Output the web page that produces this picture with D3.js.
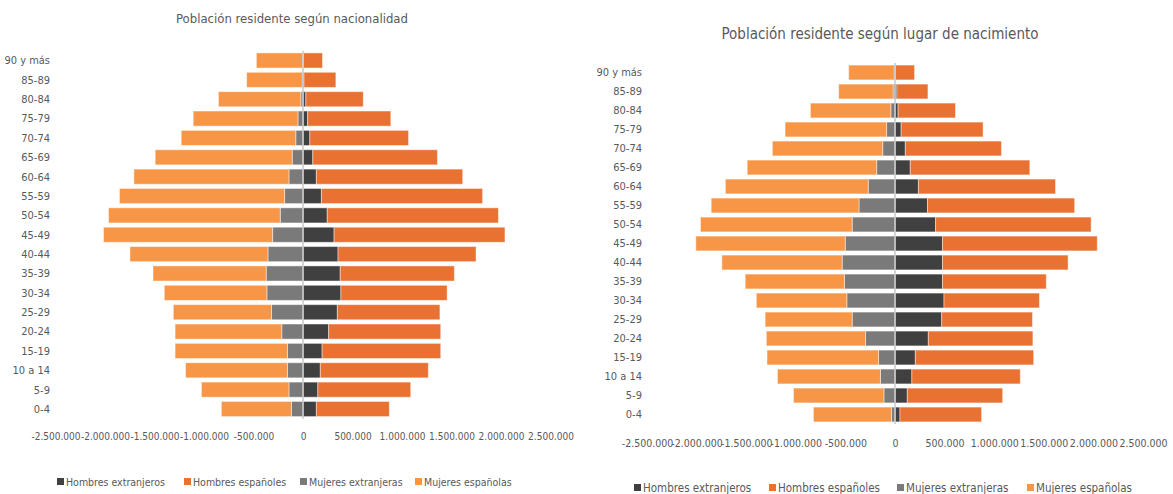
<!DOCTYPE html>
<html>
<head>
<meta charset="utf-8">
<script src="https://cdn.jsdelivr.net/npm/d3@7"></script>
<style>
  body { margin: 0; background: #fff; }
  svg text { font-family: "Liberation Sans Narrow", "DejaVu Sans Condensed", "Roboto", sans-serif; fill: #595959; }
</style>
</head>
<body>
<div id="chart"></div>
<script>
// Age groups, bottom to top
const AGES = ['0-4', '5-9', '10 a 14', '15-19', '20-24', '25-29', '30-34', '35-39', '40-44',
  '45-49', '50-54', '55-59', '60-64', '65-69', '70-74', '75-79', '80-84', '85-89', '90 y más'];

const SERIES = ['Hombres extranjeros', 'Hombres españoles', 'Mujeres extranjeras', 'Mujeres españolas'];
const COLORS = ['#404040', '#E97132', '#7A7A7A', '#F79646'];

const TICKS = [-2500000, -2000000, -1500000, -1000000, -500000, 0, 500000, 1000000, 1500000, 2000000, 2500000];

// Población residente según nacionalidad (miles)
const nacHombresExtranjeros = [135, 150, 175, 193, 259, 347, 383, 376, 354, 314, 245, 186, 135, 99, 69, 47, 29, 10, 4];
const nacHombresEspanoles = [737, 938, 1091, 1198, 1132, 1036, 1073, 1153, 1394, 1726, 1729, 1628, 1478, 1259, 997, 840, 580, 322, 193];
const nacMujeresExtranjeras = [117, 142, 157, 157, 215, 318, 365, 372, 354, 307, 230, 186, 142, 109, 73, 51, 22, 8, 4];
const nacMujeresEspanolas = [708, 884, 1029, 1135, 1077, 992, 1036, 1143, 1394, 1708, 1734, 1668, 1566, 1384, 1157, 1058, 832, 561, 467];

// Población residente según lugar de nacimiento (miles)
const nacimHombresExtranjeros = [50, 124, 170, 205, 336, 471, 494, 479, 479, 479, 409, 328, 236, 154, 104, 62, 31, 19, 5];
const nacimHombresEspanoles = [823, 961, 1093, 1193, 1054, 915, 962, 1046, 1266, 1560, 1568, 1483, 1382, 1205, 969, 826, 579, 313, 192];
const nacimMujeresExtranjeras = [35, 112, 147, 166, 297, 432, 486, 510, 533, 502, 432, 363, 270, 185, 124, 85, 42, 19, 8];
const nacimMujeresEspanolas = [787, 911, 1038, 1124, 1000, 877, 912, 1000, 1212, 1506, 1529, 1490, 1440, 1305, 1112, 1023, 811, 549, 459];

const WIDTH = 1173;
const HEIGHT = 494;

const fmt = d3.formatLocale({ decimal: ',', thousands: '.', grouping: [3], currency: ['', '€'], minus: '-' }).format(',');

const svg = d3.select('#chart')
  .append('svg')
  .attr('width', WIDTH)
  .attr('height', HEIGHT);

drawPyramid({
  title: 'Población residente según nacionalidad',
  titleX: 292, titleY: 23, titleSize: 13,
  zeroX: 303, pxPer500k: 49.5,
  top: 50.8, bottom: 418.7,
  tickY: 441, tickSize: 10, labelEndX: 50,
  legendY: 482, legendX: [57, 184, 300, 415], legendSize: 10.5,
  data: [nacHombresExtranjeros, nacHombresEspanoles, nacMujeresExtranjeras, nacMujeresEspanolas]
});

drawPyramid({
  title: 'Población residente según lugar de nacimiento',
  titleX: 880, titleY: 39, titleSize: 15,
  zeroX: 895, pxPer500k: 49.6,
  top: 63, bottom: 424,
  tickY: 448, tickSize: 10.5, labelEndX: 642,
  legendY: 488, legendX: [634, 769, 897, 1027], legendSize: 11.5,
  data: [nacimHombresExtranjeros, nacimHombresEspanoles, nacimMujeresExtranjeras, nacimMujeresEspanolas]
});

function drawPyramid (cfg) {
  const g = svg.append('g');
  const half = cfg.pxPer500k * 5;

  const xScale = d3.scaleLinear()
    .domain([-2500000, 2500000])
    .range([cfg.zeroX - half, cfg.zeroX + half]);

  const yScale = d3.scaleBand()
    .domain(AGES.slice().reverse())
    .range([cfg.top, cfg.bottom])
    .paddingInner(0.22)
    .paddingOuter(0.11);

  // stacked rows: men to the right, women to the left
  const rows = AGES.map((age, i) => {
    const he = cfg.data[0][i] * 1000;
    const hs = cfg.data[1][i] * 1000;
    const me = cfg.data[2][i] * 1000;
    const ms = cfg.data[3][i] * 1000;
    return [
      { age, s: 0, x0: 0, x1: he },
      { age, s: 1, x0: he, x1: he + hs },
      { age, s: 2, x0: -me, x1: 0 },
      { age, s: 3, x0: -me - ms, x1: -me }
    ];
  }).flat();

  g.append('text')
    .attr('x', cfg.titleX)
    .attr('y', cfg.titleY)
    .attr('text-anchor', 'middle')
    .style('font-size', cfg.titleSize + 'px')
    .text(cfg.title);

  g.selectAll('rect.bar')
    .data(rows)
    .join('rect')
    .attr('class', 'bar')
    .attr('x', d => xScale(d.x0))
    .attr('width', d => xScale(d.x1) - xScale(d.x0))
    .attr('y', d => yScale(d.age))
    .attr('height', yScale.bandwidth())
    .attr('fill', d => COLORS[d.s])
    .attr('stroke', 'rgba(255,255,255,0.45)')
    .attr('stroke-width', 1);

  // vertical category axis at zero
  g.append('line')
    .attr('x1', xScale(0)).attr('x2', xScale(0))
    .attr('y1', cfg.top).attr('y2', cfg.bottom)
    .attr('stroke', '#C8C8C8')
    .attr('stroke-width', 1.5);

  // category labels
  g.selectAll('text.age')
    .data(AGES)
    .join('text')
    .attr('class', 'age')
    .attr('x', cfg.labelEndX)
    .attr('y', d => yScale(d) + yScale.bandwidth() / 2)
    .attr('dy', '0.35em')
    .attr('text-anchor', 'end')
    .style('font-size', '11px')
    .text(d => d);

  // value axis labels
  const xAxis = d3.axisBottom(xScale)
    .tickValues(TICKS)
    .tickFormat(fmt)
    .tickSize(0)
    .tickPadding(0);

  const axisG = g.append('g')
    .attr('transform', `translate(0, ${cfg.tickY - 8})`)
    .call(xAxis);
  axisG.select('.domain').remove();
  axisG.selectAll('text')
    .attr('fill', '#595959')
    .style('font-size', cfg.tickSize + 'px')
    .style('font-family', '"Liberation Sans Narrow", "DejaVu Sans Condensed", Roboto, sans-serif');

  // legend
  const leg = g.selectAll('g.legend')
    .data(SERIES)
    .join('g')
    .attr('class', 'legend')
    .attr('transform', (d, i) => `translate(${cfg.legendX[i]}, ${cfg.legendY})`);

  leg.append('rect')
    .attr('x', 0)
    .attr('y', -4)
    .attr('width', 7)
    .attr('height', 7)
    .attr('fill', (d, i) => COLORS[i]);

  leg.append('text')
    .attr('x', 9)
    .attr('y', 0)
    .attr('dy', '0.35em')
    .style('font-size', cfg.legendSize + 'px')
    .text(d => d);
}
</script>
</body>
</html>
